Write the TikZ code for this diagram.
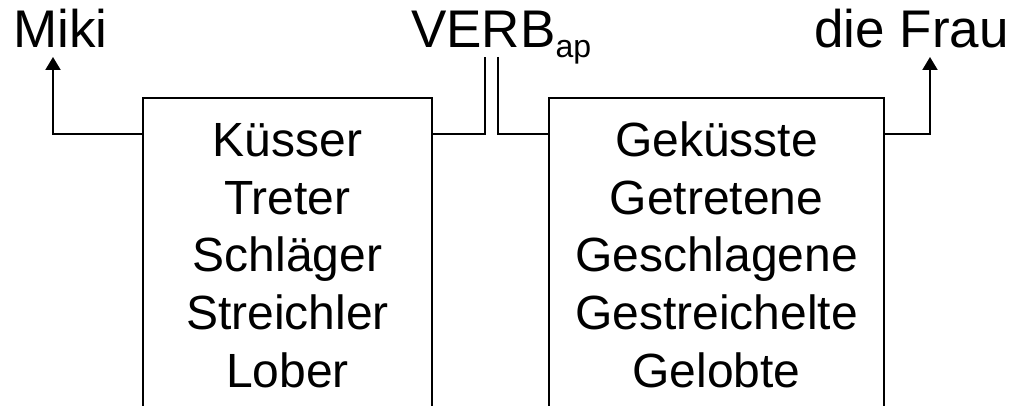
\documentclass[tikz,border=0pt]{standalone}
\usepackage{fontspec}
\setmainfont{Liberation Sans}
\usetikzlibrary{arrows.meta}
\begin{document}
\begin{tikzpicture}[x=1pt,y=-1pt,
  conn/.style={line width=2pt},
  arr/.style={conn,-{Triangle[width=15pt,length=13pt]}},
  boxshape/.style={draw=none,minimum height=308pt,inner sep=0pt,outer sep=0pt,anchor=north west},
  toplab/.style={font=\fontsize{53}{60}\selectfont,inner sep=0pt,anchor=base},
  word/.style={font=\fontsize{48}{56}\selectfont,inner sep=0pt,anchor=base}]
\fill[white] (0,0) rectangle (1013,406);
\useasboundingbox (0,0) rectangle (1013,406);
% boxes (open at the bottom)
\node[boxshape,minimum width=289pt] (L) at (143,98) {};
\node[boxshape,minimum width=335pt] (R) at (549,98) {};
\draw[conn] (L.south west) |- (L.north east) -- (L.south east);
\draw[conn] (R.south west) |- (R.north east) -- (R.south east);
% box words
\node[word] (l1) at (287.5,157) {Küsser};
\node[word] (l2) at (287.5,214.5) {Treter};
\node[word] (l3) at (287.5,272) {Schläger};
\node[word] (l4) at (287.5,329.5) {Streichler};
\node[word] (l5) at (287.5,387) {Lober};
\node[word] (r1) at (716.5,157) {Geküsste};
\node[word] (r2) at (716.5,214.5) {Getretene};
\node[word] (r3) at (716.5,272) {Geschlagene};
\node[word] (r4) at (716.5,329.5) {Gestreichelte};
\node[word] (r5) at (716.5,387) {Gelobte};
% top labels
\node[toplab] (miki) at (60.5,48) {Miki};
\node[toplab,anchor=base west] (verb) at (411,48) {VERB\raisebox{-10pt}{\fontsize{32}{32}\selectfont ap}};
\node[toplab] (frau) at (911.5,48) {die Frau};
% connectors
\coordinate (hy) at (0,134);
\coordinate (mt) at (53,57);
\coordinate (v1) at (485,57);
\coordinate (v2) at (498,57);
\coordinate (ft) at (930,57);
\draw[arr] (L.west |- hy) -| (mt);
\draw[conn] (L.east |- hy) -| (v1);
\draw[conn] (v2) |- (R.west |- hy);
\draw[arr] (R.east |- hy) -| (ft);
\end{tikzpicture}
\end{document}
